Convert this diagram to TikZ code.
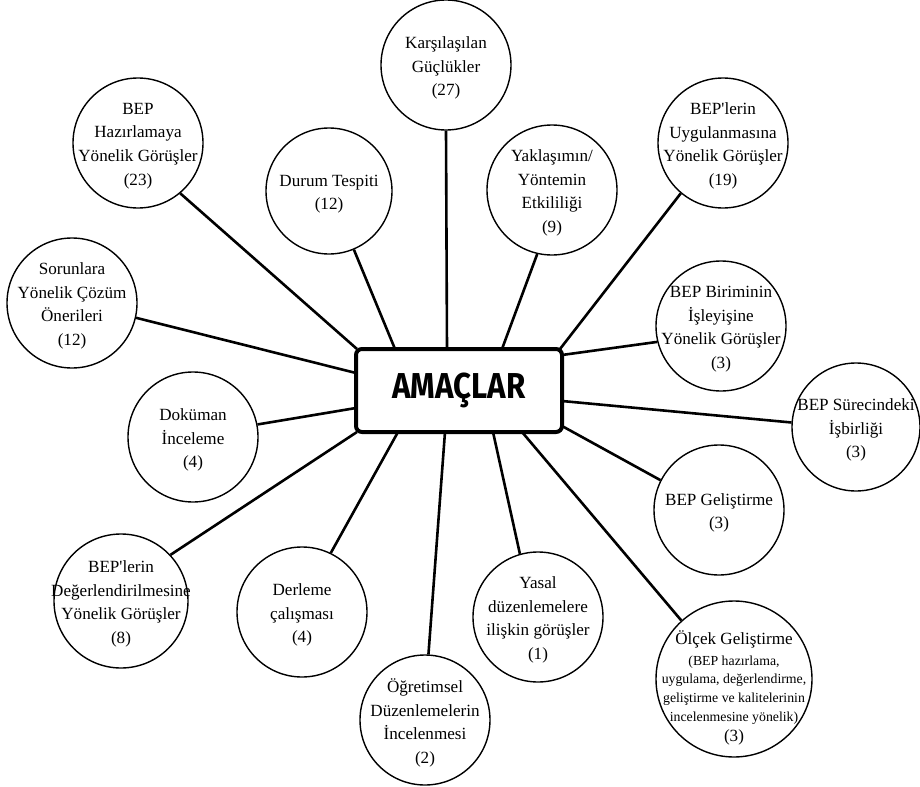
\documentclass[tikz,border=0pt]{standalone}
\usepackage{fontspec}
\setmainfont{Liberation Serif}[Ligatures=TeXOff]
\newfontfamily\titlefont{Fira Sans}
\usepackage{graphicx}
\usetikzlibrary{calc,backgrounds}
\begin{document}
\begin{tikzpicture}[x=1bp,y=-1bp,
  bubble/.style={draw, circle, line width=1.4bp, inner sep=0pt, minimum size=130bp},
  txt/.style={align=center, inner sep=0pt, font=\fontsize{17.1bp}{23.6bp}\selectfont},
  btxt/.style={txt, yshift=-3bp},
  smalltxt/.style={align=center, inner sep=0pt, font=\fontsize{13.8bp}{18.8bp}\selectfont},
  link/.style={line width=2.6bp},
  mainbox/.style={draw, line width=4bp, rounded corners=6bp, fill=white, minimum width=206bp, minimum height=83bp, inner sep=0pt}]
\useasboundingbox (0,0) rectangle (920,787);

% central box
\node[mainbox] (box) at (459,390.5) {\raisebox{1.5bp}{\titlefont\bfseries\fontsize{36bp}{36bp}\selectfont\scalebox{0.87}[1]{AMAÇLAR}}};

% circles
\node[bubble] (K) at (446,65) {};
\node[btxt] (Kt) at (K) {Karşılaşılan\\Güçlükler\\(27)};

\node[bubble] (H) at (138,143) {};
\node[btxt] (Ht) at (H) {BEP\\Hazırlamaya\\Yönelik Görüşler\\(23)};

\node[bubble, minimum size=126bp] (D) at (329,191) {};
\node[btxt] (Dt) at (D) {Durum Tespiti\\(12)};

\node[bubble] (Y) at (552,190) {};
\node[btxt] (Yt) at (Y) {Yaklaşımın/\\Yöntemin\\Etkililiği\\(9)};

\node[bubble] (U) at (723,143) {};
\node[btxt] (Ut) at (U) {BEP'lerin\\Uygulanmasına\\Yönelik Görüşler\\(19)};

\node[bubble] (S) at (72,303) {};
\node[btxt] (St) at (S) {Sorunlara\\Yönelik Çözüm\\Önerileri\\(12)};

\node[bubble] (Bi) at (721,326) {};
\node[btxt] (Bit) at (Bi) {BEP Biriminin\\İşleyişine\\Yönelik Görüşler\\(3)};

\node[bubble, minimum size=128bp] (Su) at (856,427) {};
\node[btxt] (Sut) at (Su) {BEP Sürecindeki\\İşbirliği\\(3)};

\node[bubble] (Do) at (193,437) {};
\node[btxt] (Dot) at (Do) {Doküman\\İnceleme\\(4)};

\node[bubble] (G) at (719,510) {};
\node[btxt] (Gt) at (G) {BEP Geliştirme\\(3)};

\node[bubble, minimum size=134bp] (De) at (121,601) {};
\node[btxt] (Det) at (De) {BEP'lerin\\Değerlendirilmesine\\Yönelik Görüşler\\(8)};

\node[bubble] (Dr) at (302,612) {};
\node[btxt] (Drt) at (Dr) {Derleme\\çalışması\\(4)};

\node[bubble] (Ya) at (538,617) {};
\node[btxt] (Yat) at (Ya) {Yasal\\düzenlemelere\\ilişkin görüşler\\(1)};

\node[bubble] (O) at (425,720) {};
\node[btxt] (Ot) at (O) {Öğretimsel\\Düzenlemelerin\\İncelenmesi\\(2)};

\node[bubble, minimum size=156bp] (Ol) at (734,679) {};
\node[txt] (Olt1) at (734,639) {Ölçek Geliştirme};
\node[smalltxt] (Olt2) at (734,690) {(BEP hazırlama,\\uygulama, değerlendirme,\\geliştirme ve kalitelerinin\\incelenmesine yönelik)};
\node[txt] (Olt3) at (734,737) {(3)};

% connectors
\begin{scope}[on background layer]
\draw[link] (K.-90)   -- ($(box.north west)+(93,2)$);
\draw[link] (H.-50)   -- ($(box.north west)+(3,2)$);
\draw[link] (D.-67)   -- ($(box.north west)+(41,2)$);
\draw[link] (Y.-103)  -- ($(box.north west)+(148,2)$);
\draw[link] (U.-130)  -- ($(box.north west)+(206,2)$);
\draw[link] (S.-13)   -- ($(box.north west)+(2,26)$);
\draw[link] (Do.11)   -- ($(box.north west)+(2,61)$);
\draw[link] (De.43)   -- ($(box.north west)+(3,85)$);
\draw[link] (Dr.64)   -- ($(box.north west)+(44,85)$);
\draw[link] (O.87)    -- ($(box.north west)+(91,85)$);
\draw[link] (Ya.106)  -- ($(box.north west)+(139,85)$);
\draw[link] (Ol.132)  -- ($(box.north west)+(168,85)$);
\draw[link] (G.153)   -- ($(box.north west)+(208,79)$);
\draw[link] (Su.176)  -- ($(box.north west)+(208,54)$);
\draw[link] (Bi.-166) -- ($(box.north west)+(208,8)$);
\end{scope}
\end{tikzpicture}
\end{document}
